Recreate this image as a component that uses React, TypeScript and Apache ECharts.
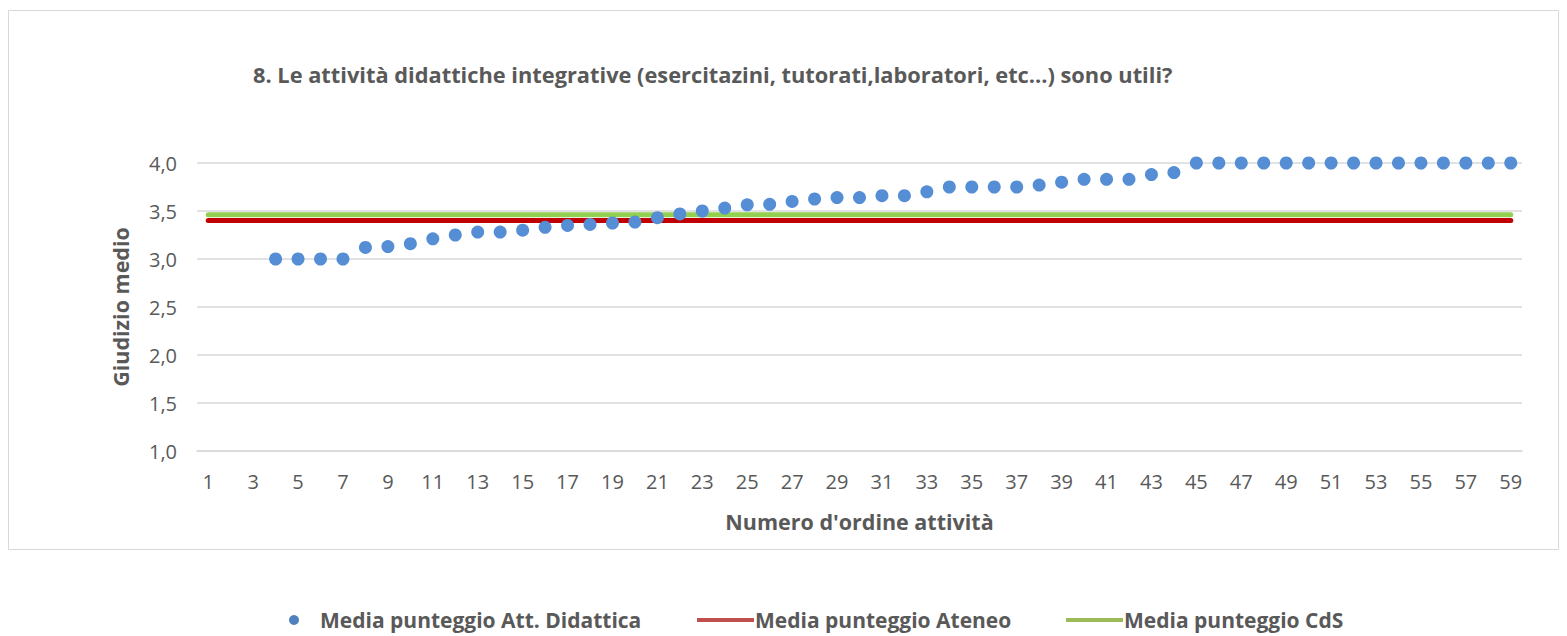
import React, { useEffect, useRef } from "react";
import * as echarts from "echarts";

const categories: string[] = Array.from({ length: 59 }, (_, i) => String(i + 1));
const attDidattica: (number | null)[] = [
  null, null, null, 3.0, 3.0, 3.0, 3.0, 3.12, 3.13, 3.16,
  3.21, 3.25, 3.28, 3.28, 3.3, 3.33, 3.35, 3.36, 3.375, 3.385,
  3.43, 3.47, 3.5, 3.53, 3.565, 3.57, 3.6, 3.625, 3.64, 3.64,
  3.66, 3.66, 3.7, 3.75, 3.75, 3.75, 3.75, 3.77, 3.8, 3.83,
  3.83, 3.83, 3.88, 3.9, 4.0, 4.0, 4.0, 4.0, 4.0, 4.0,
  4.0, 4.0, 4.0, 4.0, 4.0, 4.0, 4.0, 4.0, 4.0,
];
const mediaAteneo = 3.4;
const mediaCdS = 3.46;
const yTicks = { min: 1, max: 4, interval: 0.5 };

const title = "8. Le attività didattiche integrative (esercitazini, tutorati,laboratori, etc...) sono utili?";
const seriesNames = ["Media punteggio Att. Didattica", "Media punteggio Ateneo", "Media punteggio CdS"];

const FONT = "'Open Sans', 'Noto Sans', sans-serif";
const GRAY = "#595959";

export default function App() {
  const ref = useRef<HTMLDivElement>(null);
  useEffect(() => {
    document.body.style.margin = "0";
    const chart = echarts.init(ref.current!, null, { renderer: "svg" });
    const legendText = { fontFamily: FONT, fontSize: 21, lineHeight: 24, fontWeight: "bold", color: GRAY };
    chart.setOption({
      animation: false,
      backgroundColor: "#fff",
      textStyle: { fontFamily: FONT },
      title: {
        text: title,
        left: 248,
        top: 58,
        textStyle: { fontFamily: FONT, fontSize: 21.8, fontWeight: "bold", color: GRAY },
      },
      graphic: [
        {
          type: "rect",
          shape: { x: 8.5, y: 10.5, width: 1550, height: 539 },
          style: { fill: "none", stroke: "#d9d9d9", lineWidth: 1 },
          z: -1,
        },
      ],
      legend: [
        {
          data: [{ name: seriesNames[0], icon: "circle", itemStyle: { color: "#4f81bd" } }],
          left: 289,
          top: 608,
          padding: 0,
          itemWidth: 10,
          itemHeight: 10,
          textStyle: { ...legendText, padding: [0, 0, 0, 16] },
        },
        {
          data: [{ name: seriesNames[1], icon: "rect", itemStyle: { color: "#c0504d" } }],
          left: 697,
          top: 608,
          padding: 0,
          itemWidth: 57,
          itemHeight: 4,
          textStyle: { ...legendText, padding: [0, 0, 0, -4] },
        },
        {
          data: [{ name: seriesNames[2], icon: "rect", itemStyle: { color: "#9bbb59" } }],
          left: 1066,
          top: 608,
          padding: 0,
          itemWidth: 57,
          itemHeight: 4,
          textStyle: { ...legendText, padding: [0, 0, 0, -4] },
        },
      ],
      grid: { left: 197, right: 45, top: 163, bottom: 185, containLabel: false },
      xAxis: {
        type: "category",
        data: categories,
        boundaryGap: true,
        name: "Numero d'ordine attività",
        nameLocation: "middle",
        nameGap: 59,
        nameTextStyle: { fontFamily: FONT, fontSize: 21.5, fontWeight: "bold", color: GRAY },
        axisLine: { lineStyle: { color: "#d9d9d9", width: 1.5 } },
        axisTick: { show: false },
        axisLabel: { interval: 1, fontFamily: FONT, fontSize: 20, color: GRAY, margin: 20 },
        splitLine: { show: false },
      },
      yAxis: {
        type: "value",
        min: yTicks.min,
        max: yTicks.max,
        interval: yTicks.interval,
        name: "Giudizio medio",
        nameLocation: "middle",
        nameGap: 66,
        nameTextStyle: { fontFamily: FONT, fontSize: 21.5, fontWeight: "bold", color: GRAY },
        axisLine: { show: false },
        axisTick: { show: false },
        axisLabel: {
          fontFamily: FONT,
          fontSize: 20,
          color: GRAY,
          margin: 20,
          formatter: (v: number) => v.toFixed(1).replace(".", ","),
        },
        splitLine: { lineStyle: { color: "#d9d9d9", width: 1.5 } },
      },
      series: [
        {
          name: seriesNames[1],
          type: "line",
          data: categories.map(() => mediaAteneo),
          symbol: "none",
          lineStyle: { color: "#c00000", width: 5, cap: "round" },
          itemStyle: { color: "#c0504d" },
          z: 2,
        },
        {
          name: seriesNames[2],
          type: "line",
          data: categories.map(() => mediaCdS),
          symbol: "none",
          lineStyle: { color: "#92d050", width: 5, cap: "round" },
          itemStyle: { color: "#9bbb59" },
          z: 2,
        },
        {
          name: seriesNames[0],
          type: "scatter",
          data: attDidattica,
          symbol: "circle",
          symbolSize: 13,
          itemStyle: { color: "#558ed5", opacity: 1 },
          z: 3,
        },
      ],
    });
    return () => chart.dispose();
  }, []);
  return <div ref={ref} style={{ width: 1567, height: 636 }} />;
}
